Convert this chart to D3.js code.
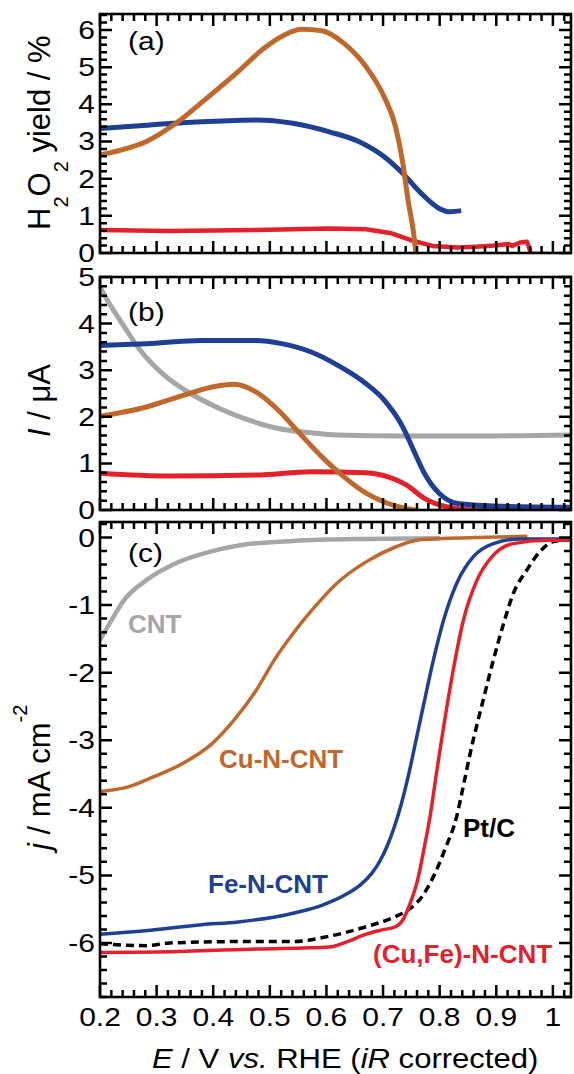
<!DOCTYPE html>
<html>
<head>
<meta charset="utf-8">
<script src="https://cdn.jsdelivr.net/npm/d3@7"></script>
<style>
    body { margin: 0; background: #fff; }
    svg { display: block; font-family: "Liberation Sans", Arial, Helvetica, sans-serif; }
</style>
</head>
<body>
<script>
// ---- data: [E / V, value] ----

// (a) H2O2 yield / %
var yieldCu = [[0.2, 2.64], [0.24, 2.78], [0.282, 3.0], [0.334, 3.49], [0.385, 4.12], [0.444, 4.88],
    [0.489, 5.5], [0.525, 5.86], [0.556, 6.02], [0.592, 5.98], [0.631, 5.64], [0.67, 5.01],
    [0.702, 4.2], [0.722, 3.4], [0.735, 2.41], [0.744, 1.43], [0.754, 0.53], [0.758, 0.0]];
var yieldFe = [[0.2, 3.35], [0.282, 3.44], [0.379, 3.53], [0.476, 3.58], [0.541, 3.49], [0.605, 3.26],
    [0.657, 3.0], [0.702, 2.59], [0.735, 2.14], [0.767, 1.61], [0.799, 1.2], [0.818, 1.11], [0.838, 1.14]];
var yieldCuFe = [[0.2, 0.62], [0.323, 0.59], [0.476, 0.62], [0.605, 0.66], [0.67, 0.64], [0.715, 0.53],
    [0.748, 0.35], [0.787, 0.19], [0.832, 0.15], [0.864, 0.17], [0.896, 0.2], [0.91, 0.22], [0.922, 0.24],
    [0.928, 0.19], [0.942, 0.28], [0.954, 0.3], [0.958, 0.15], [0.961, -0.02], [0.993, -0.03]];

// (b) ring current I / uA
var ringCNT = [[0.2, 4.78], [0.217, 4.42], [0.243, 3.93], [0.269, 3.46], [0.295, 3.1], [0.321, 2.82],
    [0.36, 2.5], [0.411, 2.18], [0.463, 1.93], [0.515, 1.75], [0.573, 1.66], [0.618, 1.61],
    [0.735, 1.59], [0.864, 1.59], [1.032, 1.61]];
var ringFe = [[0.2, 3.53], [0.282, 3.57], [0.379, 3.64], [0.476, 3.64], [0.521, 3.57], [0.573, 3.39],
    [0.625, 3.07], [0.67, 2.71], [0.702, 2.36], [0.735, 1.78], [0.754, 1.28], [0.773, 0.79],
    [0.799, 0.36], [0.832, 0.14], [0.896, 0.085], [1.032, 0.06]];
var ringCu = [[0.2, 2.01], [0.282, 2.21], [0.347, 2.46], [0.398, 2.64], [0.437, 2.7], [0.476, 2.53],
    [0.515, 2.14], [0.553, 1.64], [0.592, 1.14], [0.631, 0.71], [0.67, 0.36], [0.709, 0.14], [0.761, -0.01]];
var ringCuFe = [[0.2, 0.79], [0.323, 0.73], [0.476, 0.75], [0.573, 0.82], [0.67, 0.8], [0.709, 0.71],
    [0.741, 0.54], [0.773, 0.25], [0.812, 0.07], [0.864, 0.0], [1.032, 0.0]];

// (c) disk current density j / mA cm-2
var diskCNT = [[0.2, -1.52], [0.217, -1.27], [0.243, -0.92], [0.282, -0.63], [0.334, -0.38],
    [0.385, -0.23], [0.45, -0.11], [0.541, -0.05], [0.67, -0.02], [0.8, -0.01]];
var diskCu = [[0.2, -3.76], [0.25, -3.69], [0.295, -3.54], [0.347, -3.34], [0.398, -3.05], [0.437, -2.7],
    [0.476, -2.26], [0.508, -1.81], [0.541, -1.42], [0.58, -1.02], [0.618, -0.68], [0.67, -0.36],
    [0.722, -0.14], [0.767, -0.03], [0.864, 0.0], [0.955, 0.02]];
var diskFe = [[0.2, -5.87], [0.28, -5.82], [0.38, -5.73], [0.444, -5.69], [0.541, -5.56], [0.593, -5.44],
    [0.637, -5.27], [0.66, -5.14], [0.68, -4.97], [0.695, -4.78], [0.708, -4.55], [0.72, -4.28],
    [0.732, -3.95], [0.744, -3.55], [0.757, -3.05], [0.771, -2.5], [0.789, -1.81], [0.807, -1.22],
    [0.83, -0.68], [0.86, -0.28], [0.895, -0.09], [0.942, -0.02], [1.032, -0.02]];
var diskCuFe = [[0.2, -6.14], [0.323, -6.13], [0.476, -6.09], [0.605, -6.06], [0.637, -5.98], [0.67, -5.87],
    [0.696, -5.81], [0.722, -5.76], [0.735, -5.66], [0.748, -5.41], [0.761, -5.07], [0.773, -4.58],
    [0.783, -4.13], [0.795, -3.45], [0.807, -2.8], [0.824, -1.96], [0.842, -1.22], [0.866, -0.63],
    [0.895, -0.26], [0.93, -0.09], [0.989, -0.04], [1.032, -0.04]];
var diskPt = [[0.2, -6.01], [0.282, -6.04], [0.323, -6.0], [0.444, -5.98], [0.541, -5.98], [0.605, -5.9],
    [0.67, -5.76], [0.722, -5.61], [0.748, -5.49], [0.77, -5.3], [0.79, -5.0], [0.81, -4.6],
    [0.83, -4.13], [0.84, -3.75], [0.854, -3.19], [0.877, -2.4], [0.895, -1.81], [0.913, -1.27],
    [0.93, -0.83], [0.954, -0.48], [0.977, -0.21], [1.001, -0.06], [1.032, -0.03]];

// tick labels
var xTicks = [0.2, 0.3, 0.4, 0.5, 0.6, 0.7, 0.8, 0.9, 1.0];
var yTicksA = [0, 1, 2, 3, 4, 5, 6];
var yTicksB = [0, 1, 2, 3, 4, 5];
var yTicksC = [0, -1, -2, -3, -4, -5, -6];

var colors = {
    cnt: "#a6a6a6",
    cu: "#c0682c",
    fe: "#1d3f94",
    cufe: "#e4202a",
    pt: "#000"
};

var width = 574, height = 1074,
    left = 100, right = 571;

var svg = d3.select("body")
    .append("svg")
    .attr("width", width)
    .attr("height", height);

var x = d3.scaleLinear().domain([0.2, 1.032]).range([left, right]);

/**
 * minor tick positions between domain ends, majors left out
 */
function minorTicks(lo, hi, step, majors) {
    var out = [];
    var n = Math.round((hi - lo) / step) + 2;
    for (var i = -1; i < n; i++) {
        var r = Math.round((Math.ceil(lo / step - 1e-6) + i) * step * 1000) / 1000;
        if (r < lo - 1e-9 || r > hi + 1e-9) continue;
        if (majors.indexOf(r) < 0) out.push(r);
    }
    return out;
}

/**
 * frame with ticks on all four sides
 */
function addPanel(id, top, bottom, yDomain, yMajor, showX) {
    var y = d3.scaleLinear().domain(yDomain).range([bottom, top]);
    var xMinor = minorTicks(0.2, 1.032, 0.02, xTicks);
    var yMinor = minorTicks(yDomain[0], yDomain[1], 0.2, yMajor);

    svg.append("clipPath").attr("id", "clip-" + id)
        .append("rect")
        .attr("x", left).attr("y", top)
        .attr("width", right - left).attr("height", bottom - top);

    var lines = svg.append("g").attr("clip-path", "url(#clip-" + id + ")");

    // tick marks as one path
    var d = "";
    xTicks.forEach(function (v) {
        d += "M" + x(v) + "," + bottom + "v-12M" + x(v) + "," + top + "v12";
    });
    xMinor.forEach(function (v) {
        d += "M" + x(v) + "," + bottom + "v-7M" + x(v) + "," + top + "v7";
    });
    yMajor.forEach(function (v) {
        d += "M" + left + "," + y(v) + "h12M" + right + "," + y(v) + "h-12";
    });
    yMinor.forEach(function (v) {
        d += "M" + left + "," + y(v) + "h7M" + right + "," + y(v) + "h-7";
    });

    svg.append("path")
        .attr("class", "ticks-" + id)
        .attr("d", d)
        .style("fill", "none")
        .style("stroke", "#000")
        .style("stroke-width", "2.5px");

    svg.selectAll(null)
        .data(yMajor)
        .enter()
        .append("text")
        .attr("transform", function (v) { return "translate(" + (left - 5) + "," + (y(v) + 9) + ") scale(1.2,1)"; })
        .attr("text-anchor", "end")
        .style("font-size", "25px")
        .text(function (v) { return String(v); });

    if (showX) {
        svg.selectAll(null)
            .data(xTicks)
            .enter()
            .append("text")
            .attr("transform", function (v) { return "translate(" + x(v) + "," + (bottom + 29) + ") scale(1.2,1)"; })
            .attr("text-anchor", "middle")
            .style("font-size", "25px")
            .text(function (v) { return v === 1 ? "1" : v.toFixed(1); });
    }

    svg.append("rect")
        .attr("x", left).attr("y", top)
        .attr("width", right - left).attr("height", bottom - top)
        .attr("fill", "none").attr("stroke", "#000").attr("stroke-width", 2.6);

    return { y: y, lines: lines };
}

function drawCurve(panel, data, color, w, dash, curve) {
    var line = d3.line()
        .x(function (d) { return x(d[0]); })
        .y(function (d) { return panel.y(d[1]); })
        .curve(curve || d3.curveMonotoneX);
    panel.lines.append("path")
        .datum(data)
        .attr("d", line)
        .attr("fill", "none")
        .attr("stroke", color)
        .attr("stroke-width", w)
        .attr("stroke-linejoin", "round")
        .attr("stroke-dasharray", dash);
}

function addText(tx, ty, str, size, color, bold) {
    return svg.append("text")
        .attr("x", tx).attr("y", ty)
        .style("font-size", size + "px")
        .style("font-weight", bold ? "bold" : "normal")
        .attr("fill", color)
        .text(str);
}

// panels
var pa = addPanel("a", 14, 253, [0, 6.43], yTicksA, false);
var pb = addPanel("b", 277, 510, [0, 5], yTicksB, false);
var pc = addPanel("c", 522, 997, [-6.8, 0.23], yTicksC, true);

// (a)
drawCurve(pa, yieldCuFe, colors.cufe, 4.5, null, d3.curveLinear);
drawCurve(pa, yieldFe, colors.fe, 5);
drawCurve(pa, yieldCu, colors.cu, 5);

// (b)
drawCurve(pb, ringCNT, colors.cnt, 5);
drawCurve(pb, ringCuFe, colors.cufe, 5);
drawCurve(pb, ringFe, colors.fe, 5);
drawCurve(pb, ringCu, colors.cu, 5);

// (c)
drawCurve(pc, diskCNT, colors.cnt, 4.5);
drawCurve(pc, diskCu, colors.cu, 3.5);
drawCurve(pc, diskPt, colors.pt, 3.5, "8,5");
drawCurve(pc, diskFe, colors.fe, 3.5);
drawCurve(pc, diskCuFe, colors.cufe, 3.5);

// panel letters
[["(a)", 50], ["(b)", 321], ["(c)", 562]].forEach(function (p) {
    svg.append("text")
        .attr("transform", "translate(128," + p[1] + ") scale(1.2,1)")
        .style("font-size", "25px")
        .text(p[0]);
});

// curve labels in (c)
addText(128, 633, "CNT", 26, colors.cnt, true);
addText(219, 768, "Cu-N-CNT", 26, colors.cu, true);
addText(208, 893, "Fe-N-CNT", 26, colors.fe, true);
addText(463, 837, "Pt/C", 26, colors.pt, true);
addText(373, 963, "(Cu,Fe)-N-CNT", 26, colors.cufe, true);

// x axis title
var xt = svg.append("text")
    .attr("transform", "translate(152,1068) scale(1.15,1)")
    .style("font-size", "27px");
xt.append("tspan").style("font-style", "italic").text("E");
xt.append("tspan").text(" / V ");
xt.append("tspan").style("font-style", "italic").text("vs.");
xt.append("tspan").text(" RHE (");
xt.append("tspan").style("font-style", "italic").text("iR");
xt.append("tspan").text(" corrected)");

// y axis titles
var ya = svg.append("text")
    .attr("transform", "translate(50,230) rotate(-90)")
    .style("font-size", "31px");
ya.append("tspan").text("H");
ya.append("tspan").attr("dy", 18).style("font-size", "20px").text("2");
ya.append("tspan").attr("dy", -18).text("O");
ya.append("tspan").attr("dy", 18).style("font-size", "20px").text("2");
ya.append("tspan").attr("dy", -18).text(" yield / %");

var yb = svg.append("text")
    .attr("transform", "translate(50,437) rotate(-90)")
    .style("font-size", "31px");
yb.append("tspan").style("font-style", "italic").text("I");
yb.append("tspan").text(" / \u03bcA");

var yc = svg.append("text")
    .attr("transform", "translate(50,850) rotate(-90)")
    .style("font-size", "31px");
yc.append("tspan").style("font-style", "italic").text("j");
yc.append("tspan").text(" / mA cm");
yc.append("tspan").attr("dy", -23).style("font-size", "20px").text("-2");
</script>
</body>
</html>
